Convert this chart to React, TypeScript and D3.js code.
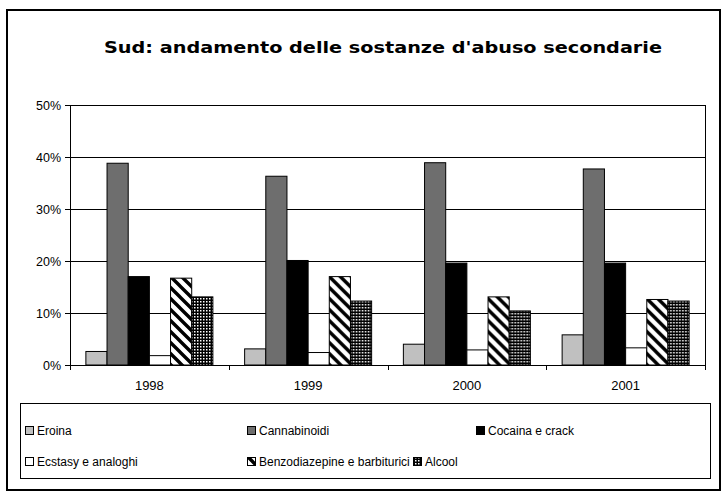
import React from 'react';
import * as d3 from 'd3';

const years = ['1998', '1999', '2000', '2001'];
const series = ['Eroina', 'Cannabinoidi', 'Cocaina e crack', 'Ecstasy e analoghi', 'Benzodiazepine e barbiturici', 'Alcool'];

// percent per year, one array per substance
const eroina = [2.6, 3.1, 4.0, 5.8];
const cannabinoidi = [38.8, 36.3, 38.9, 37.7];
const cocaina = [17.0, 20.1, 19.6, 19.6];
const ecstasy = [1.8, 2.4, 2.9, 3.3];
const benzo = [16.7, 17.0, 13.1, 12.6];
const alcool = [13.1, 12.3, 10.4, 12.3];

const values = [eroina, cannabinoidi, cocaina, ecstasy, benzo, alcool];
const yTicks = [0, 10, 20, 30, 40, 50];

const fills = ['#c0c0c0', '#6e6e6e', '#000000', '#ffffff', 'url(#stripes)', 'url(#dots)'];

const W = 724;
const H = 501;
const font = '"Liberation Sans", Arial, sans-serif';

// legend layout: [marker x, row]
const legendPos: [number, number][] = [[25, 0], [247, 0], [476, 0], [25, 1], [247, 1], [413, 1]];

export default function App() {
  const left = 70, right = 705, top = 105, bottom = 365;

  const x = d3.scaleBand().domain(years).range([left, right]);
  const inner = d3.scaleBand().domain(series).range([0, x.bandwidth()]).paddingInner(0).paddingOuter(0.75);
  const y = d3.scaleLinear().domain([0, 50]).range([bottom, top]);

  return (
    <svg width={W} height={H} style={{ position: 'absolute', left: 0, top: 0, background: '#fff' }} fontFamily={font}>
      <defs>
        <pattern id="stripes" patternUnits="userSpaceOnUse" width={11} height={11}>
          <rect width={11} height={11} fill="#fff" />
          <path d="M-3,-3 L14,14 M-3,8 L3,14 M8,-3 L14,3" stroke="#000" strokeWidth={3.4} />
        </pattern>
        <pattern id="dots" patternUnits="userSpaceOnUse" width={3} height={3}>
          <rect width={3} height={3} fill="#000" />
          <rect x={1} y={1} width={1.5} height={1.5} fill="#fff" />
        </pattern>
      </defs>

      {/* outer frame */}
      <rect x={7} y={10} width={713} height={480} fill="none" stroke="#000" strokeWidth={2} />

      <text x={383} y={53} textAnchor="middle" fontSize={16.5} fontWeight="bold" fill="#000"
        fontFamily='"DejaVu Sans", sans-serif' textLength={558} lengthAdjust="spacingAndGlyphs">
        Sud: andamento delle sostanze d'abuso secondarie
      </text>

      {/* grid + y axis */}
      {yTicks.map(t => (
        <g key={t}>
          <line x1={left - 5} x2={right} y1={Math.round(y(t)) + 0.5} y2={Math.round(y(t)) + 0.5} stroke="#000" strokeWidth={1} />
          <text x={left - 9} y={y(t) + 4.5} textAnchor="end" fontSize={12.5} fill="#000">{t}%</text>
        </g>
      ))}
      <line x1={left + 0.5} x2={left + 0.5} y1={top} y2={bottom} stroke="#000" />
      <line x1={right + 0.5} x2={right + 0.5} y1={top} y2={bottom} stroke="#000" />

      {/* x axis ticks */}
      {[...years.map(yr => x(yr) as number), right].map((v, i) => (
        <line key={i} x1={Math.round(v) + 0.5} x2={Math.round(v) + 0.5} y1={bottom} y2={bottom + 5} stroke="#000" />
      ))}

      {/* bars */}
      {years.map((yr, j) => (
        <g key={yr} transform={`translate(${x(yr)},0)`}>
          {series.map((s, i) => (
            <rect key={s} x={inner(s)} y={y(values[i][j])} width={inner.bandwidth()} height={bottom - y(values[i][j])}
              fill={fills[i]} stroke="#000" strokeWidth={1} />
          ))}
        </g>
      ))}

      {years.map(yr => (
        <text key={yr} x={(x(yr) as number) + x.bandwidth() / 2} y={390} textAnchor="middle" fontSize={13} fill="#000">{yr}</text>
      ))}

      {/* legend */}
      <rect x={20.5} y={403.5} width={690} height={75} fill="#fff" stroke="#000" strokeWidth={1} />
      {series.map((s, i) => {
        const [lx, row] = legendPos[i];
        const ly = 435 + row * 31;
        return (
          <g key={s}>
            <rect x={lx + 0.5} y={ly - 8.5} width={8} height={8} fill={fills[i]} stroke="#000" strokeWidth={1} />
            <text x={lx + 12} y={ly} fontSize={12} fill="#000">{s}</text>
          </g>
        );
      })}
    </svg>
  );
}
